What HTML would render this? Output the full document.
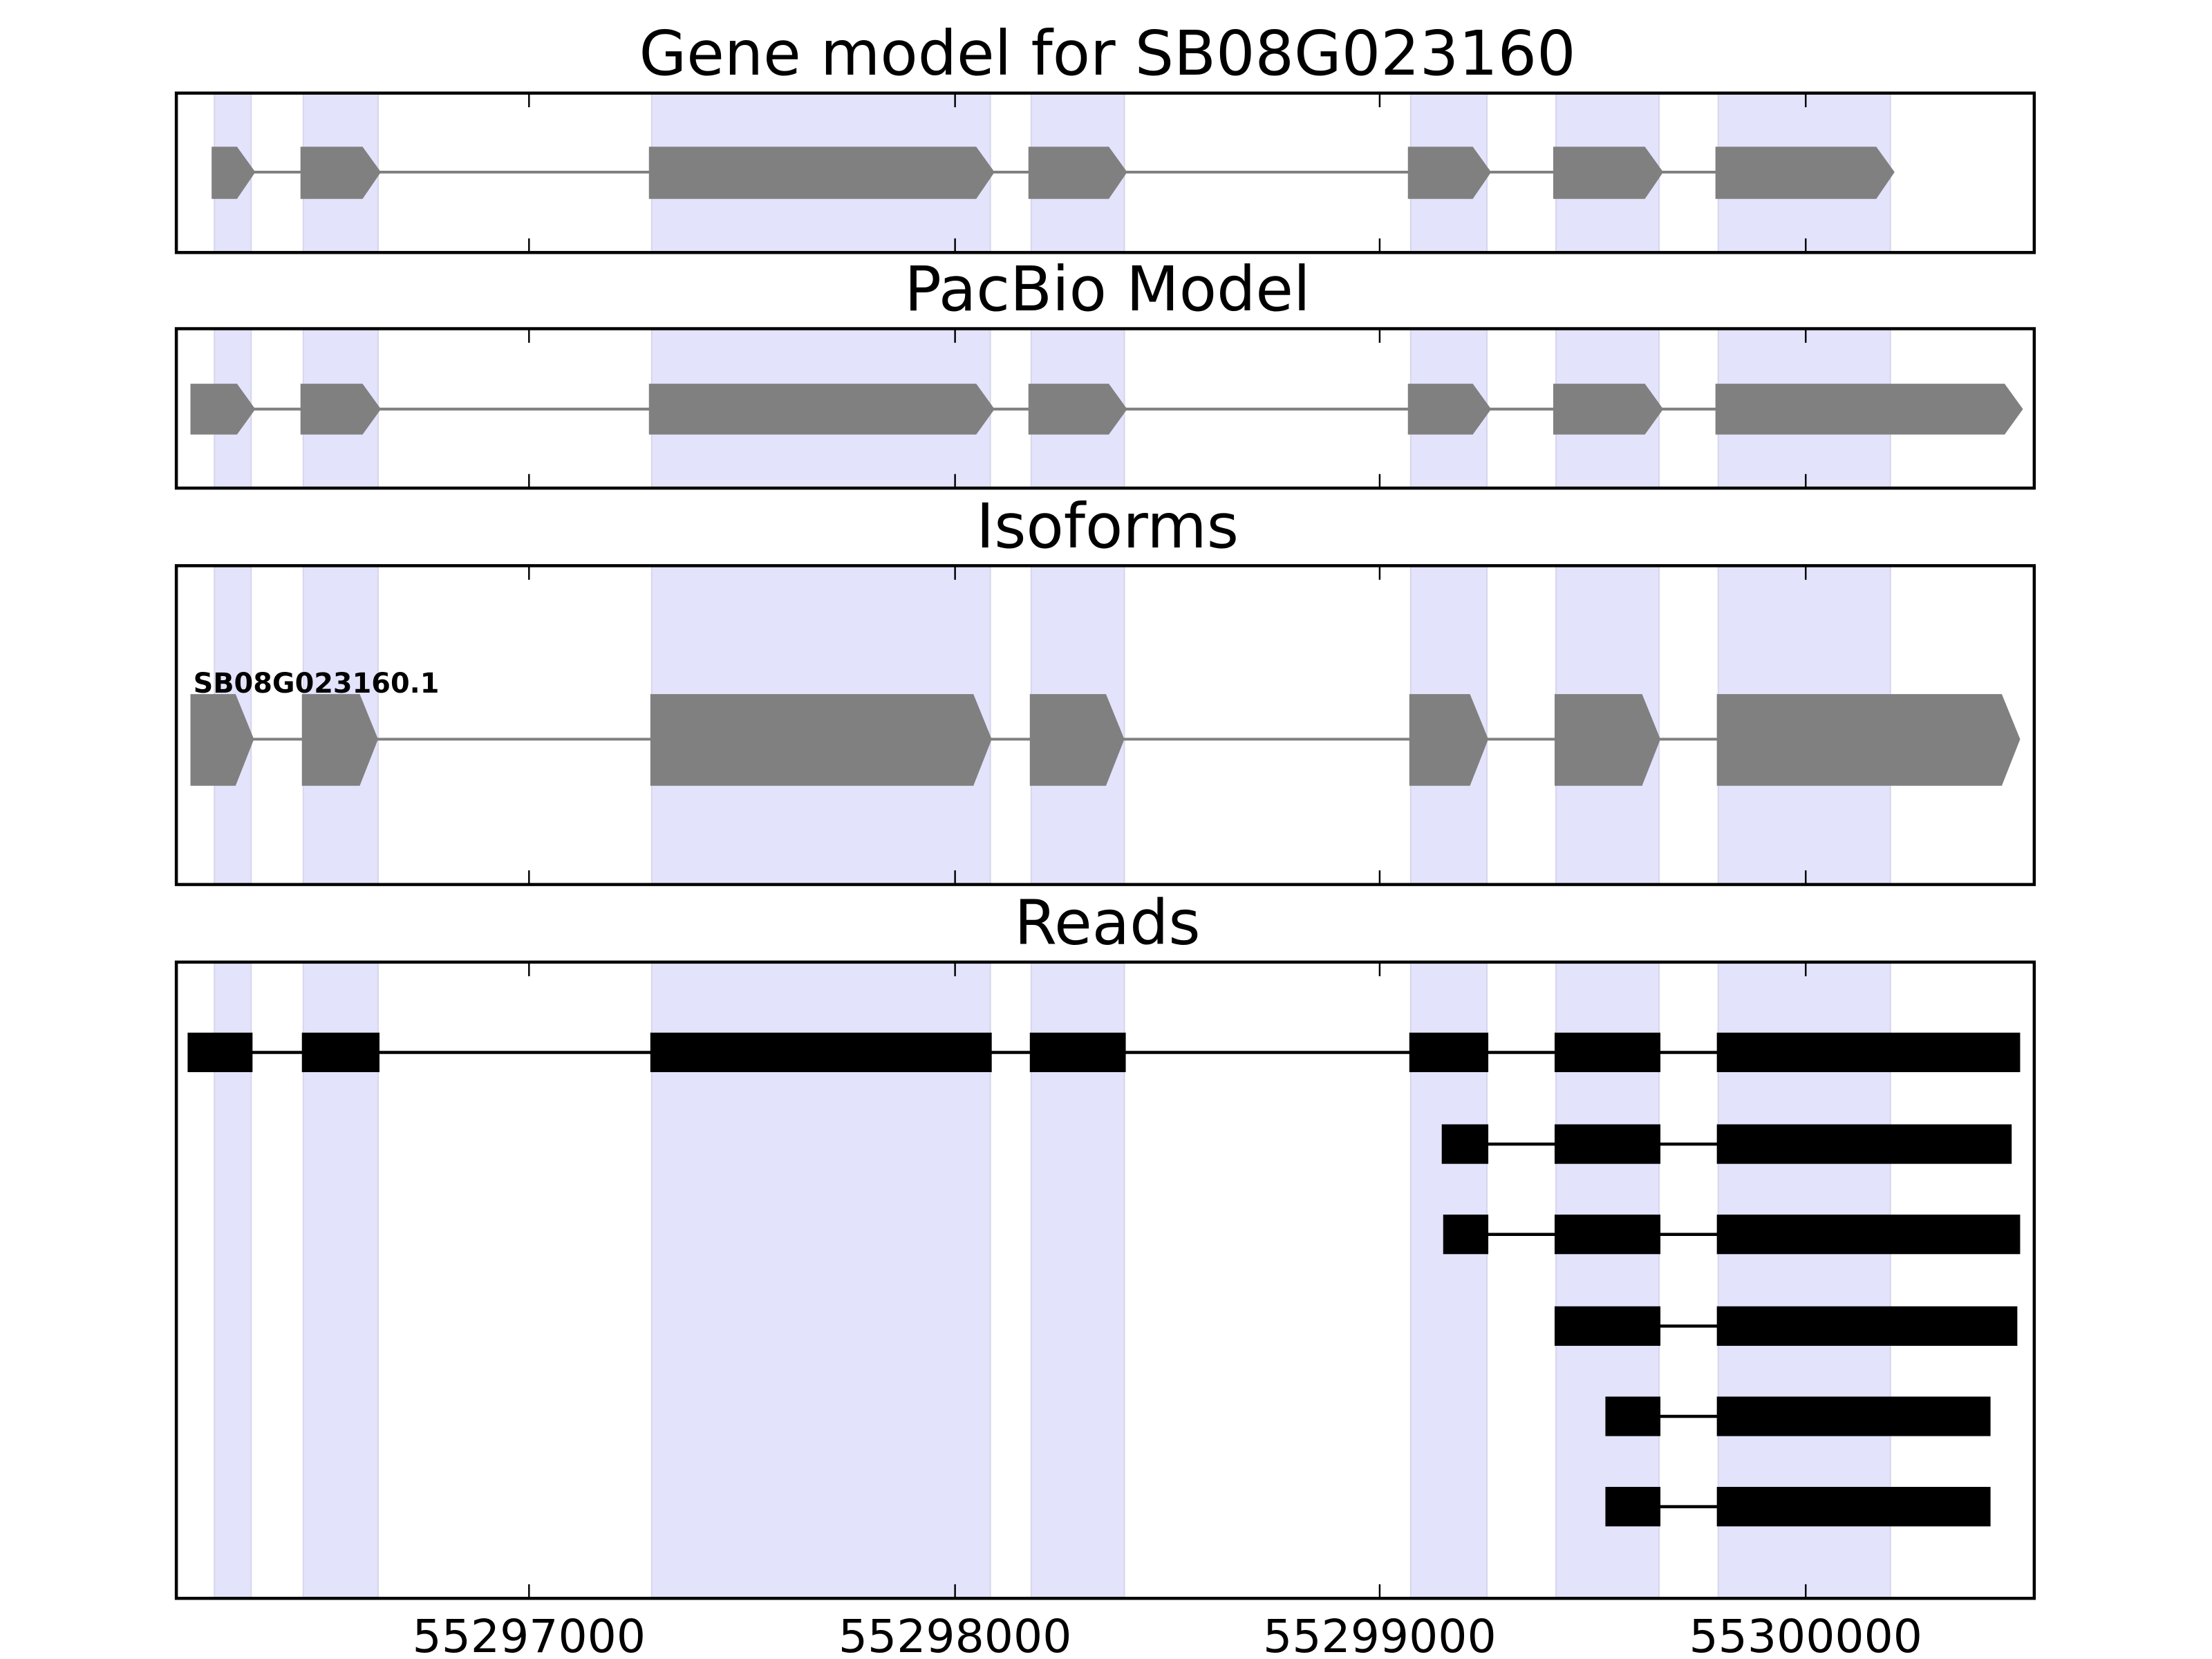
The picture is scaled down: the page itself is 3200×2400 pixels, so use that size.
<!DOCTYPE html>
<html><head><meta charset="utf-8"><style>html,body{margin:0;padding:0;background:#fff;overflow:hidden}svg{display:block}</style></head>
<body>
<svg width="3200" height="2400" viewBox="0 0 1568 1176" xmlns="http://www.w3.org/2000/svg" font-family="'DejaVu Sans','Liberation Sans',sans-serif">
<defs>
<g id="shade">
<rect x="152" width="26" height="1000" fill="#e3e3fc" stroke="#d6d6ec" stroke-width="1"/>
<rect x="215" width="53" height="1000" fill="#e3e3fc" stroke="#d6d6ec" stroke-width="1"/>
<rect x="462" width="240" height="1000" fill="#e3e3fc" stroke="#d6d6ec" stroke-width="1"/>
<rect x="731" width="66" height="1000" fill="#e3e3fc" stroke="#d6d6ec" stroke-width="1"/>
<rect x="1000" width="54" height="1000" fill="#e3e3fc" stroke="#d6d6ec" stroke-width="1"/>
<rect x="1103" width="73" height="1000" fill="#e3e3fc" stroke="#d6d6ec" stroke-width="1"/>
<rect x="1218" width="122" height="1000" fill="#e3e3fc" stroke="#d6d6ec" stroke-width="1"/>
</g>
</defs>
<g font-size="43.5" text-anchor="middle">
<text x="785" y="53">Gene model for SB08G023160</text>
<text x="785" y="220">PacBio Model</text>
<text x="785" y="388">Isoforms</text>
<text x="785" y="669">Reads</text>
</g>
<svg x="0" y="66" width="1552" height="113" viewBox="0 0 1552 113" overflow="hidden"><use href="#shade"/></svg>
<svg x="0" y="233" width="1552" height="113" viewBox="0 0 1552 113" overflow="hidden"><use href="#shade"/></svg>
<svg x="0" y="401" width="1552" height="226" viewBox="0 0 1552 226" overflow="hidden"><use href="#shade"/></svg>
<svg x="0" y="682" width="1552" height="451" viewBox="0 0 1552 451" overflow="hidden"><use href="#shade"/></svg>
<line x1="165" y1="122" x2="1330" y2="122" stroke="#808080" stroke-width="2"/>
<g fill="#808080">
<polygon points="150,104 168,104 181,122 168,141 150,141"/>
<polygon points="213,104 257,104 270,122 257,141 213,141"/>
<polygon points="460,104 692,104 705,122 692,141 460,141"/>
<polygon points="729,104 786,104 799,122 786,141 729,141"/>
<polygon points="998,104 1044,104 1057,122 1044,141 998,141"/>
<polygon points="1101,104 1166,104 1179,122 1166,141 1101,141"/>
<polygon points="1216,104 1330,104 1343,122 1330,141 1216,141"/>
</g>
<line x1="165" y1="290" x2="1420" y2="290" stroke="#808080" stroke-width="2"/>
<g fill="#808080">
<polygon points="135,272 168,272 181,290 168,308 135,308"/>
<polygon points="213,272 257,272 270,290 257,308 213,308"/>
<polygon points="460,272 692,272 705,290 692,308 460,308"/>
<polygon points="729,272 786,272 799,290 786,308 729,308"/>
<polygon points="998,272 1044,272 1057,290 1044,308 998,308"/>
<polygon points="1101,272 1166,272 1179,290 1166,308 1101,308"/>
<polygon points="1216,272 1421,272 1434,290 1421,308 1216,308"/>
</g>
<line x1="165" y1="524" x2="1420" y2="524" stroke="#808080" stroke-width="2"/>
<g fill="#808080">
<polygon points="135,492 167,492 180,524 167,557 135,557"/>
<polygon points="214,492 255,492 268,524 255,557 214,557"/>
<polygon points="461,492 690,492 703,524 690,557 461,557"/>
<polygon points="730,492 784,492 797,524 784,557 730,557"/>
<polygon points="999,492 1042,492 1055,524 1042,557 999,557"/>
<polygon points="1102,492 1164,492 1177,524 1164,557 1102,557"/>
<polygon points="1217,492 1419,492 1432,524 1419,557 1217,557"/>
</g>
<text x="137" y="491" font-size="19.5" font-weight="bold">SB08G023160.1</text>
<g stroke="#000" stroke-width="2.2">
<line x1="150" y1="746" x2="1420" y2="746"/>
<line x1="1040" y1="811" x2="1420" y2="811"/>
<line x1="1040" y1="875" x2="1420" y2="875"/>
<line x1="1140" y1="940" x2="1420" y2="940"/>
<line x1="1160" y1="1004" x2="1400" y2="1004"/>
<line x1="1160" y1="1068" x2="1400" y2="1068"/>
</g>
<g fill="#000">
<rect x="133" y="732" width="46" height="28"/><rect x="214" y="732" width="55" height="28"/><rect x="461" y="732" width="242" height="28"/><rect x="730" y="732" width="68" height="28"/><rect x="999" y="732" width="56" height="28"/><rect x="1102" y="732" width="75" height="28"/><rect x="1217" y="732" width="215" height="28"/>
<rect x="1022" y="797" width="33" height="28"/><rect x="1102" y="797" width="75" height="28"/><rect x="1217" y="797" width="209" height="28"/>
<rect x="1023" y="861" width="32" height="28"/><rect x="1102" y="861" width="75" height="28"/><rect x="1217" y="861" width="215" height="28"/>
<rect x="1102" y="926" width="75" height="28"/><rect x="1217" y="926" width="213" height="28"/>
<rect x="1138" y="990" width="39" height="28"/><rect x="1217" y="990" width="194" height="28"/>
<rect x="1138" y="1054" width="39" height="28"/><rect x="1217" y="1054" width="194" height="28"/>
</g>
<g fill="none" stroke="#000" stroke-width="2.2">
<rect x="125" y="66" width="1317" height="113"/>
<rect x="125" y="233" width="1317" height="113"/>
<rect x="125" y="401" width="1317" height="226"/>
<rect x="125" y="682" width="1317" height="451"/>
</g>
<g stroke="#000" stroke-width="1.2">
<path d="M375 66v10M677 66v10M978 66v10M1280 66v10M375 179v-10M677 179v-10M978 179v-10M1280 179v-10"/>
<path d="M375 233v10M677 233v10M978 233v10M1280 233v10M375 346v-10M677 346v-10M978 346v-10M1280 346v-10"/>
<path d="M375 401v10M677 401v10M978 401v10M1280 401v10M375 627v-10M677 627v-10M978 627v-10M1280 627v-10"/>
<path d="M375 682v10M677 682v10M978 682v10M1280 682v10M375 1133v-10M677 1133v-10M978 1133v-10M1280 1133v-10"/>
</g>
<g font-size="32.5" text-anchor="middle">
<text x="375" y="1171">55297000</text>
<text x="677" y="1171">55298000</text>
<text x="978" y="1171">55299000</text>
<text x="1280" y="1171">55300000</text>
</g>
</svg>
</body></html>
